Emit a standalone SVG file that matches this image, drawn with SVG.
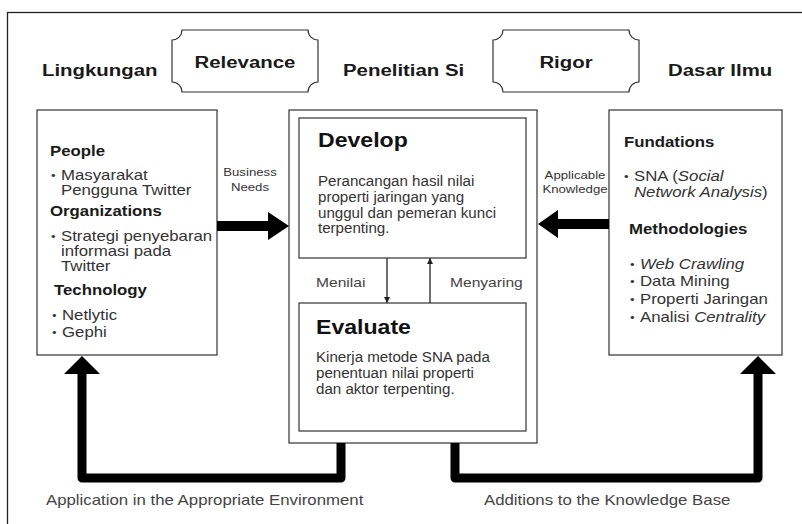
<svg xmlns="http://www.w3.org/2000/svg" width="802" height="524" viewBox="0 0 802 524">
<style>
text{font-family:"Liberation Sans",Arial,sans-serif;}
.frame{fill:none;stroke:#222;stroke-width:1.3;}
.box{fill:#fff;stroke:#333;stroke-width:1.2;}
.plq{fill:#fff;stroke:#333;stroke-width:1.2;}
.title{font-size:17px;font-weight:bold;fill:#1a1a1a;}
.hd{font-size:14px;font-weight:bold;fill:#1a1a1a;}
.big{font-size:21px;font-weight:bold;fill:#111;}
.tx{font-size:14px;fill:#333;}
.bl{font-size:11px;fill:#333;}
.sm{font-size:11px;fill:#333;}
.lb{font-size:13px;fill:#444;}
.bt{font-size:14px;fill:#444;}
.it{font-style:italic;}
.thick{fill:none;stroke:#000;stroke-width:9;stroke-linejoin:round;stroke-linecap:butt;}
.thin{fill:none;stroke:#222;stroke-width:1.3;}
</style>
<defs>
<marker id="ah" viewBox="0 0 10 10" refX="10" refY="5" markerWidth="6" markerHeight="6" orient="auto" markerUnits="userSpaceOnUse">
<path d="M0,0 L10,5 L0,10 Z" fill="#222"/>
</marker>
</defs>
<rect class="frame" x="7.5" y="12.5" width="810" height="530"/>

<g id="header-lingkungan"><g transform="scale(1.2 1)"><text class="title" x="35" y="76">Lingkungan</text></g></g>
<g id="relevance">
<path class="plq" d="M182 30 H308 A10 10 0 0 0 318 40 V82 A10 10 0 0 0 308 92 H182 A10 10 0 0 0 172 82 V40 A10 10 0 0 0 182 30 Z"/>
<g transform="scale(1.2 1)"><text class="title" x="204.17" y="68" text-anchor="middle">Relevance</text></g>
</g>
<g id="header-penelitian"><g transform="scale(1.2 1)"><text class="title" x="285.83" y="76">Penelitian Si</text></g></g>
<g id="rigor">
<path class="plq" d="M503 30 H629 A10 10 0 0 0 639 40 V82 A10 10 0 0 0 629 92 H503 A10 10 0 0 0 493 82 V40 A10 10 0 0 0 503 30 Z"/>
<g transform="scale(1.2 1)"><text class="title" x="471.67" y="68" text-anchor="middle">Rigor</text></g>
</g>
<g id="header-dasar"><g transform="scale(1.2 1)"><text class="title" x="556.67" y="76">Dasar Ilmu</text></g></g>

<g id="lingkungan-box">
<rect class="box" x="37" y="110" width="180" height="245"/>
<g transform="scale(1.2 1)">
<text class="hd" x="41.67" y="156">People</text>
<text class="bl" x="42.5" y="179">•</text>
<text class="tx" x="50.83" y="180">Masyarakat</text>
<text class="tx" x="50.83" y="195">Pengguna Twitter</text>
<text class="hd" x="41.67" y="216">Organizations</text>
<text class="bl" x="42.5" y="240">•</text>
<text class="tx" x="50.83" y="241">Strategi penyebaran</text>
<text class="tx" x="50.83" y="256">informasi pada</text>
<text class="tx" x="50.83" y="271">Twitter</text>
<text class="hd" x="45" y="295">Technology</text>
<text class="bl" x="43.33" y="319">•</text>
<text class="tx" x="51.67" y="320">Netlytic</text>
<text class="bl" x="43.33" y="336">•</text>
<text class="tx" x="51.67" y="337">Gephi</text>
</g>
</g>

<g id="penelitian-box">
<rect class="box" x="289" y="110" width="248" height="333"/>
</g>
<g id="develop">
<rect class="box" x="299" y="118" width="227" height="140"/>
<g transform="scale(1.1 1)">
<text class="big" x="289.09" y="147">Develop</text>
</g>
<g transform="scale(1.08 1)">
<text class="tx" x="294.44" y="186">Perancangan hasil nilai</text>
<text class="tx" x="294.44" y="202">properti jaringan yang</text>
<text class="tx" x="294.44" y="218">unggul dan pemeran kunci</text>
<text class="tx" x="294.44" y="233">terpenting.</text>
</g>
</g>
<g id="evaluate">
<rect class="box" x="299" y="303" width="227" height="128"/>
<g transform="scale(1.1 1)">
<text class="big" x="287.27" y="334">Evaluate</text>
</g>
<g transform="scale(1.08 1)">
<text class="tx" x="292.59" y="362">Kinerja metode SNA pada</text>
<text class="tx" x="292.59" y="378">penentuan nilai properti</text>
<text class="tx" x="292.59" y="394">dan aktor terpenting.</text>
</g>
</g>

<g id="dasar-box">
<rect class="box" x="609" y="110" width="173" height="245"/>
<g transform="scale(1.2 1)">
<text class="hd" x="520" y="147">Fundations</text>
<text class="bl" x="520" y="180">•</text>
<text class="tx" x="528.33" y="181">SNA (<tspan class="it">Social</tspan></text>
<text class="tx" x="528.33" y="197"><tspan class="it">Network Analysis</tspan>)</text>
<text class="hd" x="524.17" y="234">Methodologies</text>
<text class="bl" x="525" y="268">•</text>
<text class="tx it" x="533.33" y="269">Web Crawling</text>
<text class="bl" x="525" y="285">•</text>
<text class="tx" x="533.33" y="286">Data Mining</text>
<text class="bl" x="525" y="303">•</text>
<text class="tx" x="533.33" y="304">Properti Jaringan</text>
<text class="bl" x="525" y="321">•</text>
<text class="tx" x="533.33" y="322">Analisi <tspan class="it">Centrality</tspan></text>
</g>
</g>

<g id="connectors">
<polygon points="217,221 268,221 268,212 289,226 268,240 268,231 217,231" fill="#000"/>
<polygon points="609,219 558,219 558,210 538,224 558,238 558,229 609,229" fill="#000"/>
<line class="thin" x1="387" y1="258" x2="387" y2="303" marker-end="url(#ah)"/>
<line class="thin" x1="430" y1="303" x2="430" y2="258" marker-end="url(#ah)"/>
<path class="thick" d="M341 443 V478 H82 V372"/>
<polygon points="64,374 82,356 100,374" fill="#000"/>
<path class="thick" d="M455 443 V478 H758 V372"/>
<polygon points="740,374 758,356 776,374" fill="#000"/>
<g transform="scale(1.2 1)">
<text class="sm" x="208.33" y="176" text-anchor="middle">Business</text>
<text class="sm" x="208.33" y="191" text-anchor="middle">Needs</text>
<text class="sm" x="479.17" y="179" text-anchor="middle">Applicable</text>
<text class="sm" x="479.17" y="193" text-anchor="middle">Knowledge</text>
<text class="lb" x="263.33" y="287">Menilai</text>
<text class="lb" x="375" y="287">Menyaring</text>
<text class="bt" x="38.33" y="505">Application in the Appropriate Environment</text>
<text class="bt" x="403.33" y="505">Additions to the Knowledge Base</text>
</g>
</g>
</svg>
